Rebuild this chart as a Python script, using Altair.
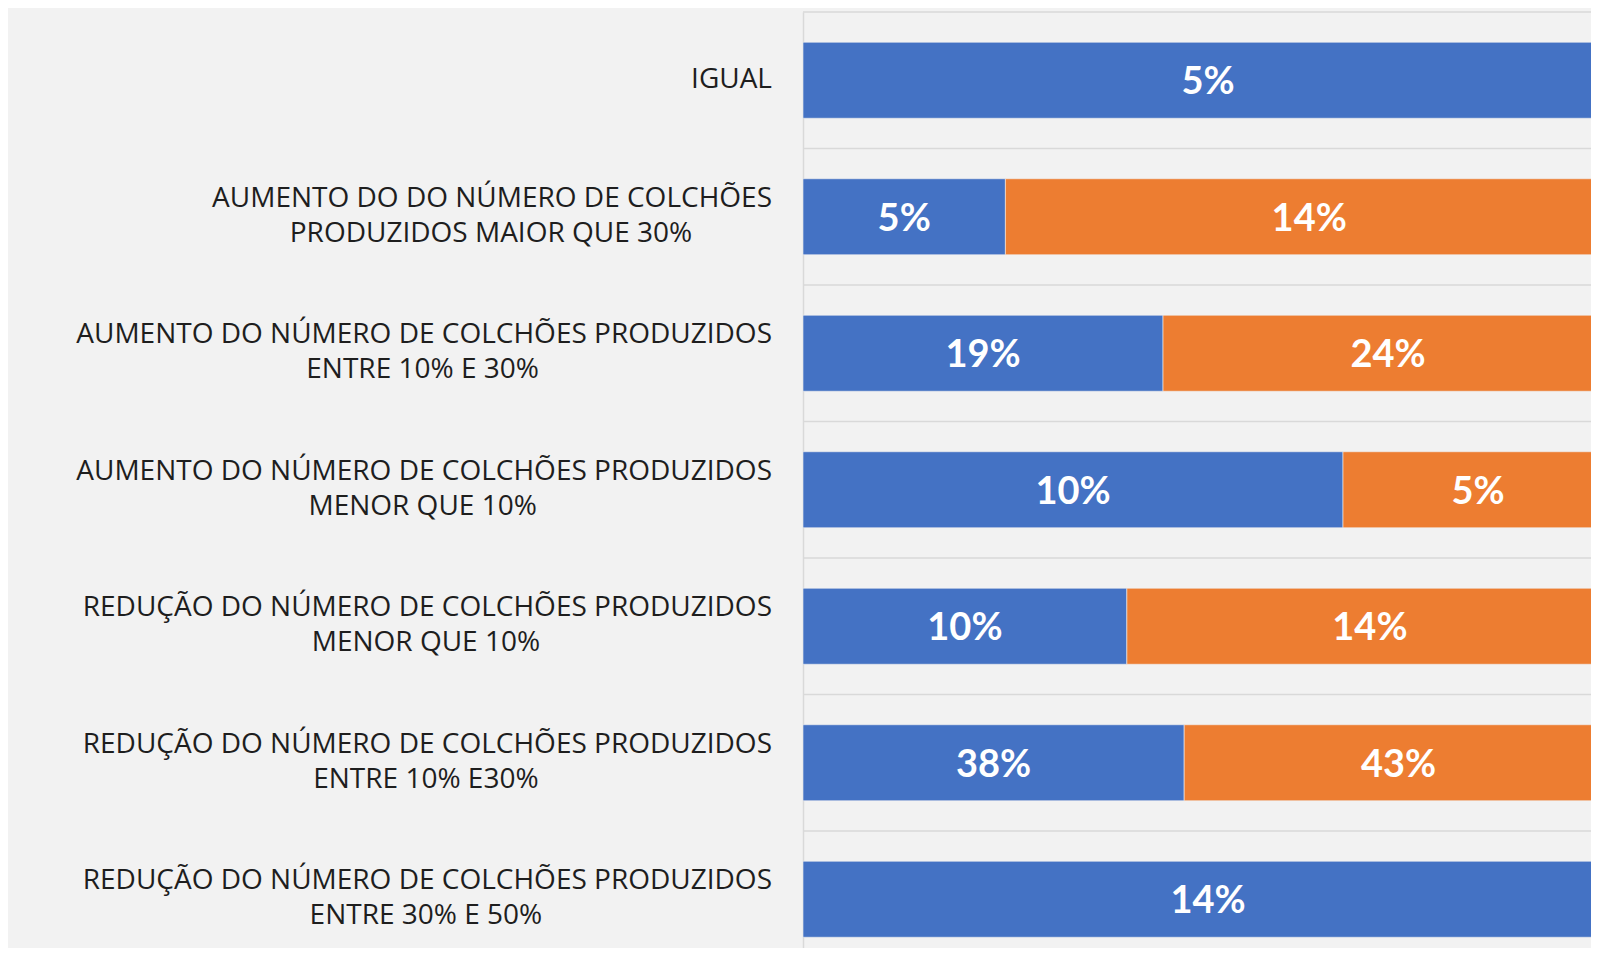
import altair as alt
import pandas as pd

# ---- data (percent of 21 answers per series) ----
label_line1 = [
    "IGUAL",
    "AUMENTO DO DO NÚMERO DE COLCHÕES",
    "AUMENTO DO NÚMERO DE COLCHÕES PRODUZIDOS",
    "AUMENTO DO NÚMERO DE COLCHÕES PRODUZIDOS",
    "REDUÇÃO DO NÚMERO DE COLCHÕES PRODUZIDOS",
    "REDUÇÃO DO NÚMERO DE COLCHÕES PRODUZIDOS",
    "REDUÇÃO DO NÚMERO DE COLCHÕES PRODUZIDOS",
]
label_line2 = [
    "",
    "PRODUZIDOS MAIOR QUE 30%",
    "ENTRE 10% E 30%",
    "MENOR QUE 10%",
    "MENOR QUE 10%",
    "ENTRE 10% E30%",
    "ENTRE 30% E 50%",
]
series_names = ["Série 1", "Série 2"]
series_colors = ["#4472C4", "#ED7D31"]
blue_values = [4.76, 4.76, 19.05, 9.52, 9.52, 38.10, 14.29]
orange_values = [None, 14.29, 23.81, 4.76, 14.29, 42.86, None]

# ---- layout / style constants ----
LABEL_FONT = "Open Sans"
LABEL_SIZE = 28
LABEL_PAD = 31
PLOT_W = 788
PLOT_H = 936
X_RANGE = 810
STEP = 136.5
PAD_INNER = 0.443
GRID_COLOR = "#D9D9D9"

cats = [(a + " " + b).strip() for a, b in zip(label_line1, label_line2)]

# approximate advance widths (em) of Open Sans, used to centre the 2nd label line
EM = {
    "A": .633, "B": .648, "C": .631, "D": .729, "E": .556, "F": .516, "G": .728,
    "H": .738, "I": .279, "L": .524, "M": .903, "N": .756, "O": .781, "P": .618,
    "Q": .781, "R": .625, "S": .547, "T": .560, "U": .734, "Z": .571, "Ç": .631,
    "Ã": .633, "Ú": .734, "Õ": .781, " ": .260, "%": .834,
}


def text_width(s, size):
    return size * sum(EM.get(c, .572) for c in s)


rows = []
for i, c in enumerate(cats):
    for s, vals in enumerate([blue_values, orange_values]):
        v = vals[i]
        if v is not None:
            rows.append({"cat": c, "series": series_names[s], "order": s, "value": v})
df = pd.DataFrame(rows)

lab = pd.DataFrame({
    "cat": cats,
    "line1": label_line1,
    "line2": label_line2,
    "l2x": [-LABEL_PAD - text_width(a, LABEL_SIZE) / 2 for a in label_line1],
})

y_scale = alt.Scale(range=[0, STEP * len(cats)], paddingInner=PAD_INNER, paddingOuter=PAD_INNER / 2)
y_enc = alt.Y(
    "cat:N",
    sort=cats,
    title=None,
    scale=y_scale,
    axis=alt.Axis(
        labels=False, ticks=False, title=None, grid=False,
        domain=True, domainColor=GRID_COLOR, domainWidth=1.5,
    ),
)

# horizontal separators at the top of each category slot
grid = alt.Chart(lab).mark_rule(color=GRID_COLOR, strokeWidth=1.5).encode(
    y=alt.Y("cat:N", sort=cats, title=None, scale=y_scale, bandPosition=0),
    yOffset=alt.value(-STEP * PAD_INNER / 2),
    x=alt.value(0),
    x2=alt.value("width"),
)

stacked = alt.Chart(df).transform_stack(
    stack="value", groupby=["cat"], as_=["v0", "v1"], offset="normalize",
    sort=[alt.SortField("order", "ascending")],
)

xscale = alt.Scale(domain=[0, 1], range=[0, X_RANGE])

bars = stacked.mark_bar(clip=True, stroke="#F2F2F2", strokeWidth=0.6).encode(
    y=y_enc,
    x=alt.X("v0:Q", scale=xscale, axis=None),
    x2="v1:Q",
    color=alt.Color("series:N", scale=alt.Scale(domain=series_names, range=series_colors), legend=None),
)

values_text = stacked.transform_calculate(
    mid="(datum.v0 + datum.v1) / 2",
    label="format(datum.value, '.0f') + '%'",
).mark_text(
    color="white", font="Lato", fontWeight="bold", fontSize=38,
    align="center", baseline="middle", clip=True, dy=3,
).encode(
    y=y_enc,
    x=alt.X("mid:Q", scale=xscale, axis=None),
    text="label:N",
)

lab_base = alt.Chart(lab)
TXT = dict(font=LABEL_FONT, fontSize=LABEL_SIZE, color="#1E1E1E", baseline="middle")

single = lab_base.transform_filter("datum.line2 == ''").mark_text(
    align="right", **TXT
).encode(y=y_enc, x=alt.value(-LABEL_PAD), text="line1:N")

first = lab_base.transform_filter("datum.line2 != ''").mark_text(
    align="right", dy=-18, **TXT
).encode(y=y_enc, x=alt.value(-LABEL_PAD), text="line1:N")

second = lab_base.transform_filter("datum.line2 != ''").mark_text(
    align="center", dy=17, **TXT
).encode(y=y_enc, x=alt.X("l2x:Q", scale=None, axis=None), text="line2:N")

chart = alt.layer(grid, bars, values_text, single, first, second).resolve_scale(
    x="independent"
).properties(
    width=PLOT_W,
    height=PLOT_H,
    padding={"left": 795, "top": 4, "right": 0, "bottom": 0},
    autosize=alt.AutoSizeParams(type="none"),
    background="#F2F2F2",
).configure_view(stroke=None)

chart.save("out.html", embed_options={"renderer": "svg", "actions": False})
